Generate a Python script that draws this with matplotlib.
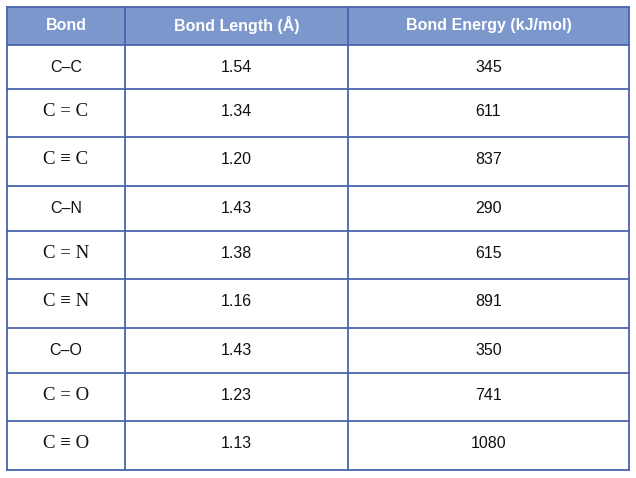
import matplotlib
matplotlib.use("Agg")
import matplotlib.pyplot as plt
from matplotlib.patches import Rectangle

headers = ["Bond", "Bond Length (Å)", "Bond Energy (kJ/mol)"]
bonds = ["C–C", "C = C", "C ≡ C", "C–N", "C = N", "C ≡ N", "C–O", "C = O", "C ≡ O"]
lengths = ["1.54", "1.34", "1.20", "1.43", "1.38", "1.16", "1.43", "1.23", "1.13"]
energies = ["345", "611", "837", "290", "615", "891", "350", "741", "1080"]

W, H = 636, 478
fig = plt.figure(figsize=(W/100, H/100), dpi=100)
ax = fig.add_axes([0, 0, 1, 1])
ax.set_xlim(0, W); ax.set_ylim(H, 0); ax.axis("off")

xs = [7, 125, 348, 629]
ys = [7, 45, 89, 137, 186, 231, 279, 328, 373, 421, 470]
border = "#4a64ad"
ax.add_patch(Rectangle((xs[0], ys[0]), xs[-1]-xs[0], ys[1]-ys[0], color="#7b97cb", lw=0))
for y in ys:
    ax.plot([xs[0], xs[-1]], [y, y], color=border, lw=1.3)
for x in xs:
    ax.plot([x, x], [ys[0], ys[-1]], color=border, lw=1.3)

def cx(i): return (xs[i] + xs[i+1]) / 2
for i, h in enumerate(headers):
    ax.text(cx(i), (ys[0]+ys[1])/2 - 1, h, ha="center", va="center", color="white",
            fontweight="bold", fontsize=11.5, family="Liberation Sans")
for r in range(len(bonds)):
    yc = (ys[r+1] + ys[r+2]) / 2
    serif = "–" not in bonds[r]
    ax.text(cx(0), yc - (2 if serif else 0), bonds[r], ha="center", va="center",
            fontsize=13.5 if serif else 11.5,
            family="Liberation Serif" if serif else "Liberation Sans", color="#111")
    ax.text(cx(1), yc - (2 if serif else 0), lengths[r], ha="center", va="center", fontsize=11.5, family="Liberation Sans", color="#111")
    ax.text(cx(2), yc - (2 if serif else 0), energies[r], ha="center", va="center", fontsize=11.5, family="Liberation Sans", color="#111")

fig.savefig("out.png", dpi=100)
